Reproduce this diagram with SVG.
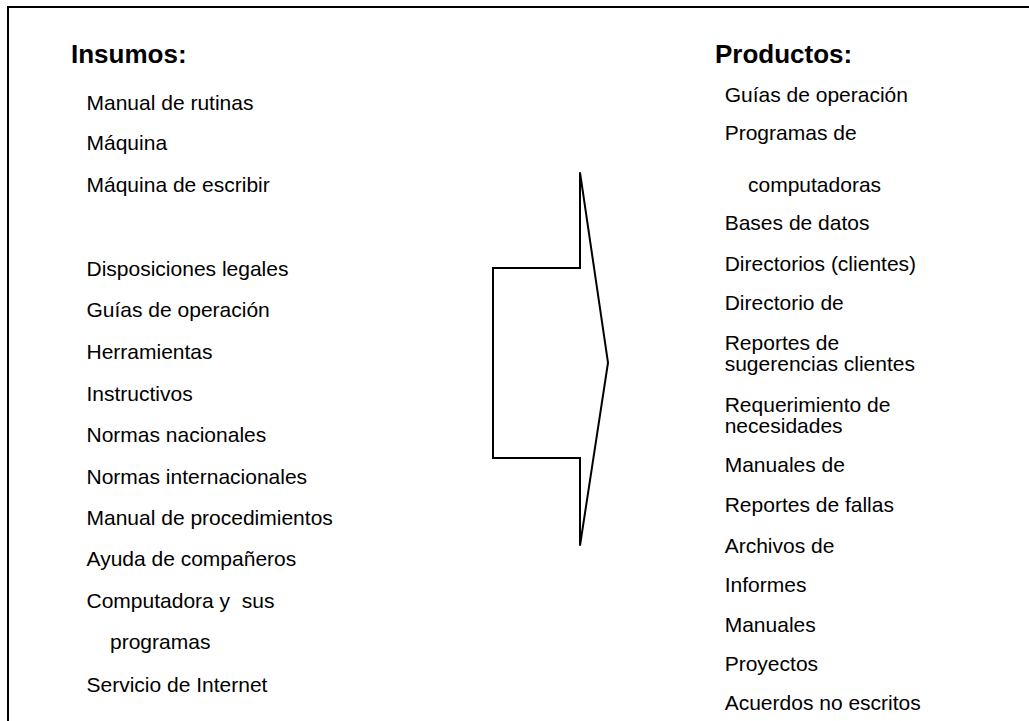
<svg xmlns="http://www.w3.org/2000/svg" width="1029" height="721" viewBox="0 0 1029 721">
<style>
text{font-family:"Liberation Sans",Arial,sans-serif;fill:#000}
.h{font-size:26px;font-weight:bold}
.t{font-size:21px}
.ln{fill:none;stroke:#000;stroke-width:2}
</style>
<rect width="1029" height="721" fill="#fff"/>
<path class="ln" d="M8,721 V7 H1029"/>
<g id="insumos">
<text class="h" x="71" y="63.3">Insumos:</text>
<text class="t" x="86.5" y="110">Manual de rutinas</text>
<text class="t" x="86.5" y="149.7">Máquina</text>
<text class="t" x="86.5" y="192.3">Máquina de escribir</text>
<text class="t" x="86.5" y="275.7">Disposiciones legales</text>
<text class="t" x="86.5" y="317.3">Guías de operación</text>
<text class="t" x="86.5" y="359">Herramientas</text>
<text class="t" x="86.5" y="401.3">Instructivos</text>
<text class="t" x="86.5" y="442.3">Normas nacionales</text>
<text class="t" x="86.5" y="483.7">Normas internacionales</text>
<text class="t" x="86.5" y="525">Manual de procedimientos</text>
<text class="t" x="86.5" y="566">Ayuda de compañeros</text>
<text class="t" x="86.5" y="608.3" xml:space="preserve">Computadora y  sus</text>
<text class="t" x="110" y="649.3">programas</text>
<text class="t" x="86.5" y="692">Servicio de Internet</text>
</g>
<g id="connectors">
<path id="arrow" class="ln" d="M580,172.3 V268 H493 V458 H580 V545.7 L608,362.7 Z" stroke-linejoin="miter"/>
</g>
<g id="productos">
<text class="h" x="715" y="62.7">Productos:</text>
<text class="t" x="724.7" y="101.7">Guías de operación</text>
<text class="t" x="724.7" y="140">Programas de</text>
<text class="t" x="748" y="191.7">computadoras</text>
<text class="t" x="724.7" y="230">Bases de datos</text>
<text class="t" x="724.7" y="270.7">Directorios (clientes)</text>
<text class="t" x="724.7" y="310">Directorio de</text>
<text class="t" x="724.7" y="350">Reportes de</text>
<text class="t" x="724.7" y="371">sugerencias clientes</text>
<text class="t" x="724.7" y="411.7">Requerimiento de</text>
<text class="t" x="724.7" y="433.3">necesidades</text>
<text class="t" x="724.7" y="472.3">Manuales de</text>
<text class="t" x="724.7" y="512.3">Reportes de fallas</text>
<text class="t" x="724.7" y="552.7">Archivos de</text>
<text class="t" x="724.7" y="591.7">Informes</text>
<text class="t" x="724.7" y="631.7">Manuales</text>
<text class="t" x="724.7" y="670.7">Proyectos</text>
<text class="t" x="724.7" y="710">Acuerdos no escritos</text>
</g>
</svg>
